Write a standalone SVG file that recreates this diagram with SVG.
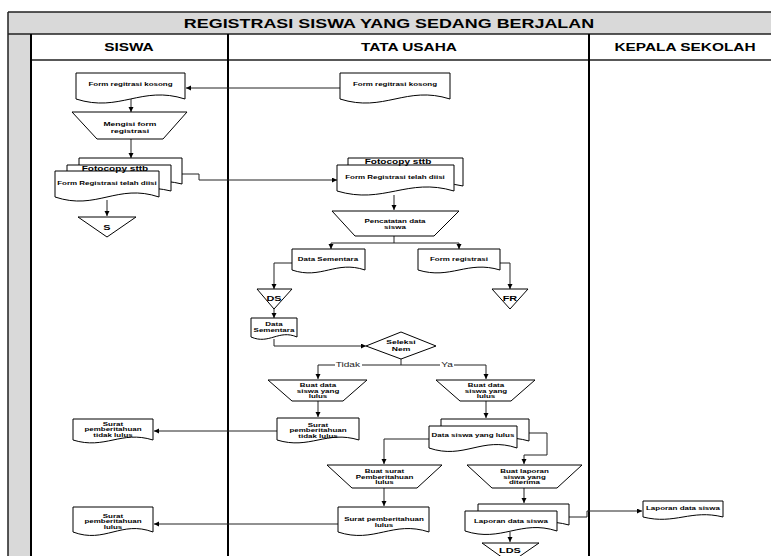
<svg xmlns="http://www.w3.org/2000/svg" width="771" height="556" viewBox="0 0 771 556">
  <style>
    .frame { fill:none; stroke:#222; stroke-width:1.5; }
    .lane { fill:none; stroke:#000; stroke-width:2; }
    .band { fill:#d9d9d9; stroke:none; }
    .shape { fill:#fff; stroke:#000; stroke-width:1; }
    .conn { fill:none; stroke:#222; stroke-width:1; }
    .arrow { marker-end:url(#ah); }
    .t { font-family:"Liberation Sans", Arial, sans-serif; font-weight:bold; font-size:5.7px; text-anchor:middle; fill:#000;
         transform-box:fill-box; transform-origin:center; transform:scaleX(1.4); }
    .mid { font-size:6.1px; }
    .big { font-size:7.2px; }
    .con { font-size:7.8px; }
    .hd { font-size:11px; }
    .title { font-size:12.8px; }
    .lbl { font-family:"Liberation Sans", Arial, sans-serif; font-size:7.2px; text-anchor:middle; fill:#222;
         transform-box:fill-box; transform-origin:center; transform:scaleX(1.4); }
  </style>
  <defs>
    <marker id="ah" markerUnits="userSpaceOnUse" markerWidth="6" markerHeight="6" refX="5" refY="2.5" orient="auto">
      <path d="M0 0 L5 2.5 L0 5 Z" fill="#000"/>
    </marker>
  </defs>

  <!-- swimlane frame -->
  <g id="frame">
    <rect class="band" x="8" y="12" width="780" height="22"/>
    <rect class="band" x="8" y="34" width="23" height="522"/>
    <rect x="31" y="34" width="757" height="26" fill="#fff"/>
    <path class="frame" d="M8 12 H771 M8 34 H771 M31 60 H771 M8 12 V556"/>
    <path class="lane" d="M31 34 V556 M228 34 V556 M589 34 V556"/>
    <text class="t title" x="389" y="27.6">REGISTRASI SISWA YANG SEDANG BERJALAN</text>
    <text class="t hd" x="129" y="51">SISWA</text>
    <text class="t hd" x="409" y="51">TATA USAHA</text>
    <text class="t hd" x="685" y="51">KEPALA SEKOLAH</text>
  </g>

  <!-- connectors -->
  <g id="connectors">
    <path class="conn arrow" d="M131 99 V112"/>
    <path class="conn arrow" d="M131 139 V158"/>
    <path class="conn arrow" d="M182 174 H199 V180 H337"/>
    <path class="conn arrow" d="M107 200 V216"/>
    <path class="conn arrow" d="M340 88 H186"/>
    <path class="conn arrow" d="M394 195 V210"/>
    <path class="conn arrow" d="M394 236 V243 H331 V249"/>
    <path class="conn arrow" d="M394 243 H459 V249"/>
    <path class="conn arrow" d="M292 263 H274 V289"/>
    <path class="conn arrow" d="M500 263 H510 V289"/>
    <path class="conn arrow" d="M274 309 V318"/>
    <path class="conn arrow" d="M274 339 V346 H366"/>
    <path class="conn arrow" d="M401 359 V365 H318 V379"/>
    <path class="conn arrow" d="M401 365 H486 V379"/>
    <path class="conn arrow" d="M318 401 V417"/>
    <path class="conn arrow" d="M277 431 H154"/>
    <path class="conn arrow" d="M486 401 V418"/>
    <path class="conn arrow" d="M529 433 H547 V455 H524 V464"/>
    <path class="conn arrow" d="M429 439 H384 V464"/>
    <path class="conn arrow" d="M384 488 V506"/>
    <path class="conn arrow" d="M338 524 H154"/>
    <path class="conn arrow" d="M524 488 V503"/>
    <path class="conn arrow" d="M569 517 H587 V511 H642"/>
    <path class="conn arrow" d="M510 532 V542"/>
    <rect x="335" y="361" width="27" height="8" fill="#fff"/>
    <text class="lbl" x="348" y="367.5">Tidak</text>
    <rect x="440" y="361" width="14" height="8" fill="#fff"/>
    <text class="lbl" x="447" y="367.5">Ya</text>
  </g>

  <!-- SISWA lane -->
  <g id="siswa-form-kosong">
    <path class="shape" d="M76 73 H185 V99 C141.4 85 119.6 113 76 99 Z"/>
    <text class="t" x="130.5" y="86">Form regitrasi kosong</text>
  </g>
  <g id="siswa-mengisi-form">
    <path class="shape" d="M72 112 H187 L163 139 H97 Z"/>
    <text class="t mid" x="130" y="126"><tspan x="130">Mengisi form</tspan><tspan x="130" dy="6.6">registrasi</tspan></text>
  </g>
  <g id="siswa-form-diisi">
    <path class="shape" d="M79 158 H182 V184 C140.8 174 120.2 194 79 184 Z"/>
    <path class="shape" d="M67 165 H171 V191 C129.4 181 108.6 201 67 191 Z"/>
    <path class="shape" d="M55 171 H159 V197 C117.4 183 96.6 211 55 197 Z"/>
    <text class="t big" x="115" y="171">Fotocopy sttb</text>
    <text class="t" x="107" y="185.5">Form Registrasi telah diisi</text>
  </g>
  <g id="siswa-off-s">
    <path class="shape" d="M78 217 H136 L107 237 Z"/>
    <text class="t con" x="107" y="230">S</text>
  </g>
  <g id="siswa-tidak-lulus">
    <path class="shape" d="M73 419 H153 V440 C121 430 105 450 73 440 Z"/>
    <text class="t" x="113" y="426"><tspan x="113">Surat</tspan><tspan x="113" dy="5.5">pemberitahuan</tspan><tspan x="113" dy="5.5">tidak lulus</tspan></text>
  </g>
  <g id="siswa-lulus">
    <path class="shape" d="M73 507 H153 V532 C121 520 105 544 73 532 Z"/>
    <text class="t" x="113" y="518"><tspan x="113">Surat</tspan><tspan x="113" dy="5.5">pemberitahuan</tspan><tspan x="113" dy="5.5">lulus</tspan></text>
  </g>

  <!-- TATA USAHA lane -->
  <g id="tu-form-kosong">
    <path class="shape" d="M340 73 H450 V99 C406 85 384 113 340 99 Z"/>
    <text class="t" x="395" y="86">Form regitrasi kosong</text>
  </g>
  <g id="tu-form-diisi">
    <path class="shape" d="M348 158 H463 V186 C417 176 394 196 348 186 Z"/>
    <path class="shape" d="M337 165 H454 V191 C407.2 177 383.8 205 337 191 Z"/>
    <text class="t big" x="398" y="164.5">Fotocopy sttb</text>
    <text class="t" x="395" y="179">Form Registrasi telah diisi</text>
  </g>
  <g id="tu-pencatatan">
    <path class="shape" d="M332 211 H459 L434 236 H355 Z"/>
    <text class="t" x="395" y="223"><tspan x="395">Pencatatan data</tspan><tspan x="395" dy="6">siswa</tspan></text>
  </g>
  <g id="tu-data-sementara">
    <path class="shape" d="M292 249 H365 V270 C335.8 260 321.2 280 292 270 Z"/>
    <text class="t" x="328" y="261">Data Sementara</text>
  </g>
  <g id="tu-form-registrasi">
    <path class="shape" d="M418 249 H500 V270 C467.2 260 450.8 280 418 270 Z"/>
    <text class="t" x="459" y="261">Form registrasi</text>
  </g>
  <g id="tu-off-ds">
    <path class="shape" d="M257 289 H292 L274 309 Z"/>
    <text class="t con" x="274" y="301">DS</text>
  </g>
  <g id="tu-off-fr">
    <path class="shape" d="M492 289 H528 L510 309 Z"/>
    <text class="t con" x="510" y="301">FR</text>
  </g>
  <g id="tu-data-sementara-2">
    <path class="shape" d="M251 318 H297 V337 C278.6 329 269.4 345 251 337 Z"/>
    <text class="t" x="274" y="326"><tspan x="274">Data</tspan><tspan x="274" dy="6">Sementara</tspan></text>
  </g>
  <g id="tu-seleksi-nem">
    <path class="shape" d="M401 332 L436 346 L401 359 L366 346 Z"/>
    <text class="t mid" x="401" y="344"><tspan x="401">Seleksi</tspan><tspan x="401" dy="7">Nem</tspan></text>
  </g>
  <g id="tu-buat-tidak-lulus">
    <path class="shape" d="M268 380 H367 L343 401 H292 Z"/>
    <text class="t" x="318" y="387"><tspan x="318">Buat data</tspan><tspan x="318" dy="5.7">siswa yang</tspan><tspan x="318" dy="5.7">lulus</tspan></text>
  </g>
  <g id="tu-buat-lulus">
    <path class="shape" d="M436 380 H535 L511 401 H460 Z"/>
    <text class="t" x="486" y="387"><tspan x="486">Buat data</tspan><tspan x="486" dy="5.7">siswa yang</tspan><tspan x="486" dy="5.7">lulus</tspan></text>
  </g>
  <g id="tu-surat-tidak-lulus">
    <path class="shape" d="M277 418 H359 V440 C326.2 430 309.8 450 277 440 Z"/>
    <text class="t" x="318" y="427"><tspan x="318">Surat</tspan><tspan x="318" dy="5.5">pemberitahuan</tspan><tspan x="318" dy="5.5">tidak lulus</tspan></text>
  </g>
  <g id="tu-data-lulus">
    <path class="shape" d="M441 419 H529 V441 C493.8 431 476.2 451 441 441 Z"/>
    <path class="shape" d="M429 426 H517 V448 C481.8 436 464.2 460 429 448 Z"/>
    <text class="t" x="473" y="437">Data siswa yang lulus</text>
  </g>
  <g id="tu-buat-surat">
    <path class="shape" d="M327 465 H442 L417 488 H352 Z"/>
    <text class="t" x="384.5" y="473"><tspan x="384.5">Buat surat</tspan><tspan x="384.5" dy="5.6">Pemberitahuan</tspan><tspan x="384.5" dy="5.6">lulus</tspan></text>
  </g>
  <g id="tu-buat-laporan">
    <path class="shape" d="M467 465 H582 L557 488 H492 Z"/>
    <text class="t" x="524.5" y="473"><tspan x="524.5">Buat laporan</tspan><tspan x="524.5" dy="5.6">siswa yang</tspan><tspan x="524.5" dy="5.6">diterima</tspan></text>
  </g>
  <g id="tu-surat-lulus">
    <path class="shape" d="M338 507 H429 V532 C392.6 520 374.4 544 338 532 Z"/>
    <text class="t" x="384" y="521"><tspan x="384">Surat pemberitahuan</tspan><tspan x="384" dy="6">lulus</tspan></text>
  </g>
  <g id="tu-laporan">
    <path class="shape" d="M478 504 H569 V525 C532.6 515 514.4 535 478 525 Z"/>
    <path class="shape" d="M465 511 H557 V531 C520.2 519 501.8 543 465 531 Z"/>
    <text class="t" x="511" y="523">Laporan data siswa</text>
  </g>
  <g id="tu-off-lds">
    <path class="shape" d="M482 543 H539 L510 563 Z"/>
    <text class="t con" x="510" y="553.5">LDS</text>
  </g>

  <!-- KEPALA SEKOLAH lane -->
  <g id="ks-laporan">
    <path class="shape" d="M643 501 H723 V517 C691 509 675 525 643 517 Z"/>
    <text class="t" x="683" y="510">Laporan data siswa</text>
  </g>
</svg>
